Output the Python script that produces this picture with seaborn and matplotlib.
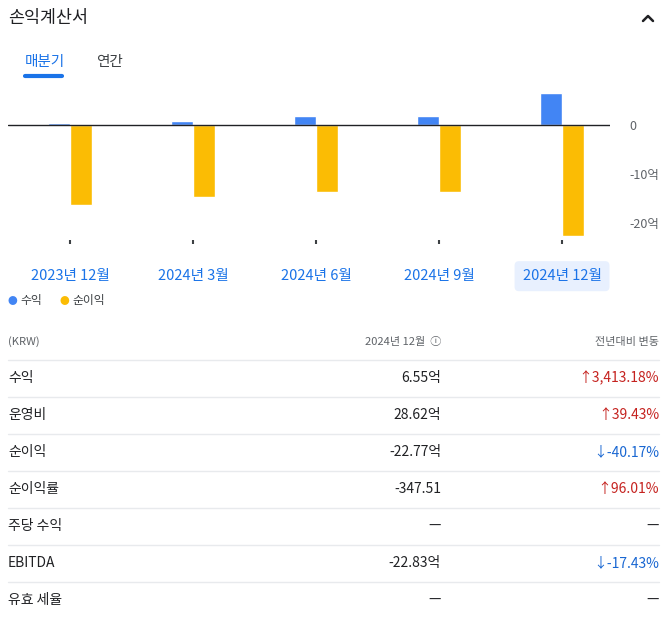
import matplotlib
matplotlib.use("Agg")
import matplotlib.pyplot as plt
import seaborn as sns
import pandas as pd
from matplotlib.lines import Line2D

periods = ["2023년 12월", "2024년 3월", "2024년 6월", "2024년 9월", "2024년 12월"]
revenue = [0.4, 0.8, 1.8, 1.8, 6.55]
net_income = [-16.3, -14.7, -13.7, -13.7, -22.77]
series_names = ["수익", "순이익"]
y_ticks = [0, -10, -20]
y_tick_labels = ["0", "-10억", "-20억"]

row_labels = ["수익", "운영비", "순이익", "순이익률", "주당 수익", "EBITDA", "유효 세율"]
row_values = ["6.55억", "28.62억", "-22.77억", "-347.51", "—", "-22.83억", "—"]
row_changes = ["↑3,413.18%", "↑39.43%", "↓-40.17%", "↑96.01%", "—", "↓-17.43%", "—"]

sns.set_theme(style="white")
plt.rcParams['font.family'] = ['Noto Sans CJK KR', 'DejaVu Sans']

W, H = 671, 628
fig = plt.figure(figsize=(W/100, H/100), dpi=100)
def fx(x): return x / W
def fy(y): return 1 - y / H

df = pd.DataFrame({
    "period": periods * 2,
    "value": revenue + net_income,
    "series": [series_names[0]] * 5 + [series_names[1]] * 5,
})
ax = fig.add_axes([fx(8), fy(240), fx(610) - fx(8), fy(85) - fy(240)])
sns.barplot(data=df, x="period", y="value", hue="series", saturation=1,
            palette=["#4285f4", "#fbbc04"], width=0.36, ax=ax, legend=False)
ax.set_xlim(-0.504, 4.39)
ax.set_ylim(-23.5, 8.2)
ax.axhline(0, color="#202124", lw=1)
for s in ax.spines.values():
    s.set_visible(False)
ax.yaxis.tick_right()
ax.set_yticks(y_ticks)
ax.set_yticklabels(y_tick_labels, color="#5f6368", fontsize=9)
ax.tick_params(axis="y", length=0, pad=14)
ax.tick_params(axis="x", bottom=True, length=3, width=1.5, color="#3c4043", direction="out", pad=18)
ax.set_xlabel(""); ax.set_ylabel("")
for lab in ax.get_xticklabels():
    lab.set_color("#1a73e8"); lab.set_fontsize(10.5); lab.set_fontweight("medium")
ax.get_xticklabels()[-1].set_bbox(dict(boxstyle="round,pad=0.55,rounding_size=0.3", fc="#e8f0fe", ec="none"))

# header
fig.text(fx(8), fy(18), "손익계산서", fontsize=12.5, color="#202124", va="center", fontweight="medium")
fig.add_artist(Line2D([fx(643), fx(648), fx(653)], [fy(21), fy(16), fy(21)], color="#202124", lw=1.8))
fig.text(fx(25), fy(62), "매분기", fontsize=10.5, color="#1a73e8", va="center", fontweight="medium")
fig.text(fx(96), fy(62), "연간", fontsize=10.5, color="#3c4043", va="center")
fig.add_artist(Line2D([fx(25), fx(62)], [fy(76), fy(76)], color="#1a73e8", lw=3, solid_capstyle="round"))

# legend
fig.text(fx(8), fy(301), "●", color="#4285f4", fontsize=7, va="center")
fig.text(fx(20), fy(301), series_names[0], color="#3c4043", fontsize=8.5, va="center")
fig.text(fx(60), fy(301), "●", color="#fbbc04", fontsize=7, va="center")
fig.text(fx(72), fy(301), series_names[1], color="#3c4043", fontsize=8.5, va="center")

# table
fig.text(fx(8), fy(342), "(KRW)", fontsize=8, color="#5f6368", va="center")
fig.text(fx(441), fy(342), "2024년 12월  ⓘ", fontsize=8, color="#5f6368", va="center", ha="right")
fig.text(fx(659), fy(342), "전년대비 변동", fontsize=8, color="#5f6368", va="center", ha="right")
for i in range(len(row_labels)):
    sep = 360 + 37 * i
    fig.add_artist(Line2D([fx(8), fx(659)], [fy(sep), fy(sep)], color="#e8eaed", lw=1))
    y = 378 + 37 * i
    fig.text(fx(8), fy(y), row_labels[i], fontsize=10, color="#202124", va="center", fontweight="medium")
    fig.text(fx(441), fy(y), row_values[i], fontsize=10, color="#202124", va="center", ha="right", fontweight="medium")
    ch = row_changes[i]
    col = "#c5221f" if ch.startswith("↑") else ("#1967d2" if ch.startswith("↓") else "#202124")
    fig.text(fx(659), fy(y), ch, fontsize=10, color=col, va="center", ha="right", fontweight="medium")

fig.savefig("out.png", dpi=100)
